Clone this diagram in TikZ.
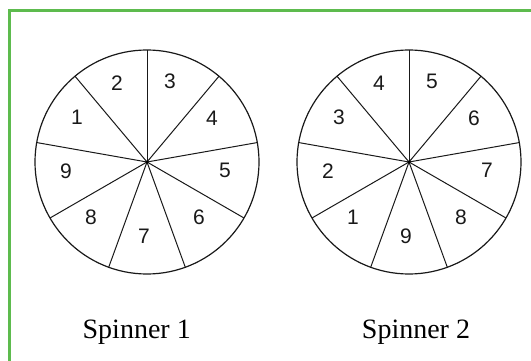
\documentclass[tikz,border=0pt]{standalone}
\usepackage{fontspec}
\setmainfont{Liberation Serif}
\newfontfamily\digitfont{Liberation Sans}
\usetikzlibrary{calc}
\definecolor{framegreen}{HTML}{5DBB4E}
\tikzset{
  rim/.style={draw=black!90, line width=1.2pt},
  spoke/.style={draw=black!90, line width=1pt},
  digit/.style={inner sep=0pt, font=\digitfont\fontsize{21}{21}\selectfont, text=black!90},
  caption/.style={inner sep=0pt, anchor=base, font=\fontsize{28}{28}\selectfont},
  hub/.style={circle, fill=black, inner sep=0pt, minimum size=3.5pt},
}
% #1 = name prefix, #2 = centre, #3 = sector labels with offsets (clockwise from the top-right sector),
% #4 = caption position, #5 = caption text
\newcommand{\drawspinner}[5]{%
  \coordinate (#1c) at #2;
  \draw[rim] (#1c) circle (112);
  % y grows downwards, so angles are negated to keep them counter-clockwise
  \foreach \a in {90,50,10,-30,-70,-110,-150,170,130}
    \draw[spoke] (#1c) -- ++(-\a:112);
  \node[hub] (#1hub) at (#1c) {};
  \foreach \lab/\dx/\dy [count=\i] in {#3}
    \node[digit] (#1l\i) at ($(#1c)+(\dx,\dy)$) {\lab};
  \node[caption] (#1cap) at #4 {#5};
}
\begin{document}
\begin{tikzpicture}[x=1pt,y=-1pt]
  \useasboundingbox (0,0) rectangle (531,361);
  % frame, open towards the right and bottom
  \draw[framegreen, line width=2.6pt] (9.7,361) -- (9.7,10.5) -- (531,10.5);

  \drawspinner{a}{(147,162)}{3/23/-81,4/65/-44,5/78/8,6/52/55,7/-3/74,8/-56/55,9/-81/9,1/-70/-45,2/-30/-79}{(136.7,338)}{Spinner 1}
  \drawspinner{b}{(409,162)}{5/23/-81,6/65/-44,7/78/8,8/52/55,9/-3/74,1/-56/55,2/-81/9,3/-70/-45,4/-30/-79}{(416,338)}{Spinner 2}
\end{tikzpicture}
\end{document}
